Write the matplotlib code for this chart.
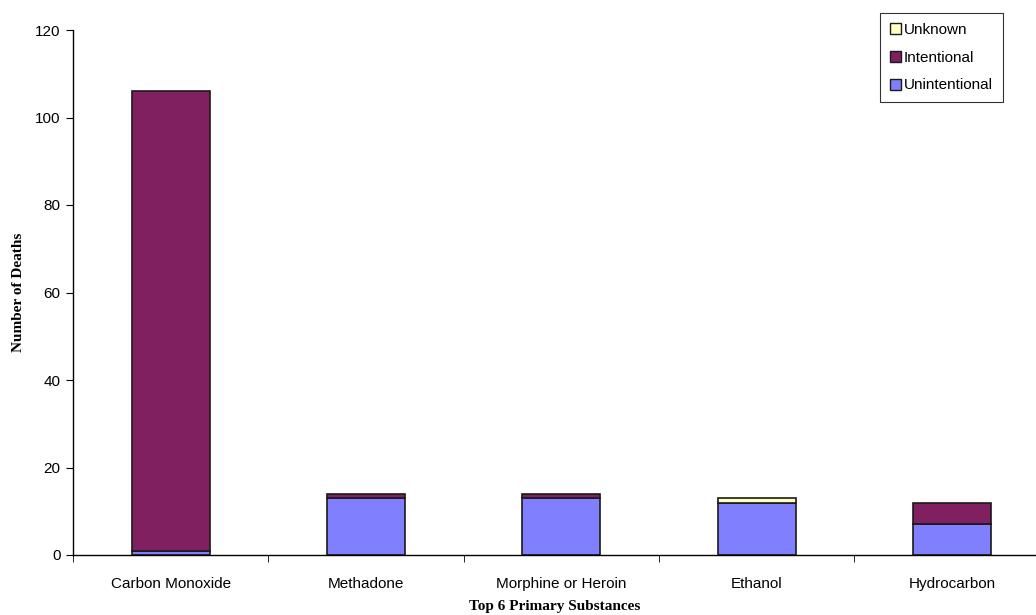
import numpy as np
import matplotlib.pyplot as plt
from matplotlib.patches import Patch
from matplotlib.ticker import FixedLocator, NullFormatter

substances = ['Carbon Monoxide', 'Methadone', 'Morphine or Heroin', 'Ethanol', 'Hydrocarbon']
unintentional = [1, 13, 13, 12, 7]
intentional = [105, 1, 1, 0, 5]
unknown = [0, 0, 0, 1, 0]

plt.rcParams['font.family'] = ['Liberation Sans', 'DejaVu Sans']

fig = plt.figure(figsize=(10.36, 6.15), dpi=100)
ax = fig.add_axes([73 / 1036, 60 / 615, (1036 - 73) / 1036, 525 / 615])

x = np.arange(len(substances))
u = np.array(unintentional)
i = np.array(intentional)
k = np.array(unknown)
w = 0.4
colors = {'Unintentional': '#8080FF', 'Intentional': '#802060', 'Unknown': '#FFFFC0'}
edge = dict(edgecolor='#1a1a1a', linewidth=1.2)
b1 = ax.bar(x, u, w, color=colors['Unintentional'], **edge)
b2 = ax.bar(x, i, w, bottom=u, color=colors['Intentional'], **edge)
b3 = ax.bar(x, k, w, bottom=u + i, color=colors['Unknown'], **edge)
# hide zero-height segments so they don't draw a stray line
for bars, vals in ((b2, i), (b3, k)):
    for r, v in zip(bars, vals):
        if v == 0:
            r.set_visible(False)

ax.set_xlim(-0.5, (1036 - 172) / 195)
ax.set_ylim(0, 120)
ax.set_yticks(range(0, 121, 20))
ax.set_xticks(x)
ax.set_xticklabels(substances, fontsize=11)
ax.tick_params(axis='x', which='major', length=0, pad=16)
ax.xaxis.set_minor_locator(FixedLocator(np.arange(-0.5, 4.6, 1)))
ax.xaxis.set_minor_formatter(NullFormatter())
ax.tick_params(axis='x', which='minor', length=5, direction='out', color='black')
ax.tick_params(axis='y', length=5, direction='out', labelsize=11, pad=4)

for side in ('top', 'right'):
    ax.spines[side].set_visible(False)
for side in ('left', 'bottom'):
    ax.spines[side].set_linewidth(1.0)

ax.set_ylabel('Number of Deaths', family=['Liberation Serif'], fontweight='bold', fontsize=11, labelpad=7)
ax.set_xlabel('Top 6 Primary Substances', family=['Liberation Serif'], fontweight='bold', fontsize=11, labelpad=6)

handles = [Patch(facecolor=colors[n], edgecolor='#1a1a1a', linewidth=1.0, label=n)
           for n in ('Unknown', 'Intentional', 'Unintentional')]
leg = ax.legend(handles=handles, loc='upper right',
                bbox_to_anchor=((1003 - 73) / (1036 - 73), 1 + 17 / 525),
                fontsize=11, frameon=True, fancybox=False, edgecolor='black',
                handlelength=0.75, handleheight=0.75, handletextpad=0.2, labelspacing=0.9,
                borderpad=0.65, borderaxespad=0)
leg.get_frame().set_linewidth(0.8)

fig.savefig('out.png', dpi=100)
